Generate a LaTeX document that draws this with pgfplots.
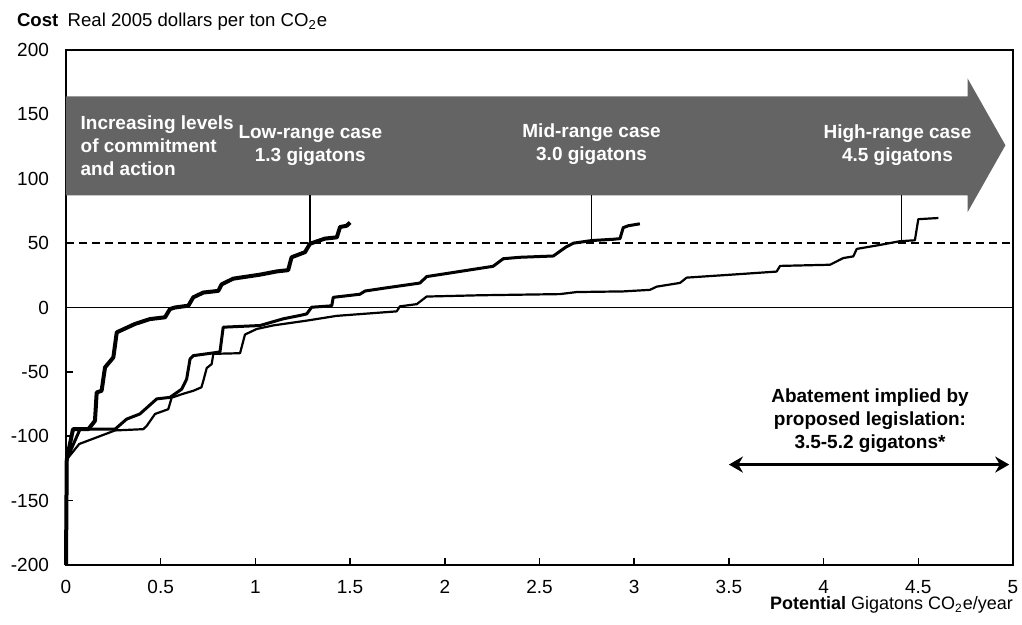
\documentclass[border=0pt]{standalone}
\usepackage{fontspec}
\setmainfont{Liberation Sans}
\usepackage{pgfplots}
\pgfplotsset{compat=1.18}
\usetikzlibrary{arrows.meta}
\definecolor{band}{RGB}{100,100,100}
\begin{document}
\begin{tikzpicture}
\path[use as bounding box] (-33pt,-30pt) rectangle (478pt,282.5pt);
\begin{axis}[
  scale only axis, width=473.5pt, height=257.5pt,
  xmin=0, xmax=5, ymin=-200, ymax=200,
  axis line style={line width=0.9pt},
  xtick={0,0.5,1,1.5,2,2.5,3,3.5,4,4.5,5},
  xticklabels={0,0.5,1,1.5,2,2.5,3,3.5,4,4.5,5},
  ytick={-200,-150,-100,-50,0,50,100,150,200},
  yticklabels={-200,-150,-100,-50,0,50,100,150,200},
  tick align=inside, tick pos=left,
  major tick length=3.5pt,
  tick style={black, line width=0.8pt},
  ticklabel style={font=\fontsize{9.5}{11}\selectfont},
  xticklabel style={yshift=-4pt},
  yticklabel style={xshift=-5pt},
  clip=false,
]
% band arrow
\addplot[fill=band, draw=none] coordinates {(0,87) (4.76,87) (4.76,74) (4.96,126) (4.76,178) (4.76,164) (0,164)} -- cycle;
% zero and dashed lines
\addplot[black, line width=0.7pt] coordinates {(0,0) (5,0)};
\addplot[black, line width=0.9pt, dash pattern=on 4pt off 2.5pt] coordinates {(0,50) (5,50)};
% leaders
\addplot[black, line width=0.7pt] coordinates {(1.288,49.5) (1.288,87)};
\addplot[black, line width=0.7pt] coordinates {(2.775,52) (2.775,87)};
\addplot[black, line width=0.7pt] coordinates {(4.41,51.5) (4.41,87)};
% high-range (thin)
\addplot[black, line width=1.1pt, line join=round] coordinates {
(0,-200) (0.004,-118) (0.07,-106) (0.259,-95.5) (0.408,-94.5) (0.426,-92) (0.47,-82.7) (0.54,-79) (0.558,-70) (0.619,-67) (0.672,-64.7) (0.715,-62) (0.725,-57) (0.743,-47) (0.769,-44) (0.778,-36) (0.919,-35.5) (0.945,-21) (1.007,-16.7) (1.095,-13.9) (1.271,-10.2) (1.429,-6.5) (1.746,-3) (1.763,0.9) (1.852,2.6) (1.904,8.5) (2.186,9.5) (2.608,10.4) (2.696,12) (2.942,12.5) (3.083,13.7) (3.119,16.2) (3.242,19.1) (3.277,23.2) (3.523,25.6) (3.752,27.9) (3.77,32.3) (4.034,33.2) (4.104,38.4) (4.157,39.7) (4.175,45.5) (4.298,48.6) (4.403,51.5) (4.482,52.2) (4.5,68.6) (4.606,69.5)};
% mid-range
\addplot[black, line width=1.5pt, line join=round] coordinates {
(0,-200) (0.004,-118) (0.074,-94.5) (0.259,-94.5) (0.32,-86.7) (0.39,-82.7) (0.479,-71) (0.549,-69.8) (0.611,-63.4) (0.637,-55.6) (0.655,-40) (0.672,-37.4) (0.796,-34.9) (0.813,-34.5) (0.83,-15.3) (1.024,-14) (1.147,-8.8) (1.235,-6.2) (1.271,-5) (1.297,0.2) (1.403,1.3) (1.411,7.9) (1.552,10.3) (1.579,12.8) (1.693,15.3) (1.869,19) (1.904,24) (2.08,28) (2.255,32) (2.309,37.9) (2.397,39) (2.573,40) (2.64,47) (2.68,50) (2.775,52) (2.89,53) (2.925,53.5) (2.942,62) (2.969,63.5) (3.03,65)};
% low-range (thick)
\addplot[black, line width=2pt, line join=round] coordinates {
(0,-200) (0.004,-118) (0.037,-94.5) (0.118,-94.5) (0.153,-88) (0.162,-66) (0.188,-64.7) (0.206,-46.5) (0.25,-38.8) (0.268,-19.3) (0.364,-12.8) (0.443,-9) (0.523,-7.6) (0.549,-1.2) (0.575,0) (0.646,1.4) (0.672,7.9) (0.725,11.6) (0.804,12.9) (0.822,18) (0.883,22.4) (1.024,25.5) (1.112,28) (1.173,29) (1.191,39) (1.262,43) (1.288,49.5) (1.367,53.5) (1.43,54.5) (1.447,62.5) (1.482,63.5) (1.5,66)};
% double arrow
\addplot[black, line width=1.5pt, {Stealth[length=7pt,width=8pt]}-{Stealth[length=7pt,width=8pt]}] coordinates {(3.5,-122) (4.98,-122)};
% band texts
\node[anchor=west, align=left, text=white, font=\bfseries\fontsize{9.5}{11.5}\selectfont] at (axis cs:0.04,126) {Increasing levels\\of commitment\\and action};
\node[align=center, text=white, font=\bfseries\fontsize{9.5}{11.5}\selectfont] at (axis cs:1.29,126) {Low-range case\\1.3 gigatons};
\node[align=center, text=white, font=\bfseries\fontsize{9.5}{11.5}\selectfont] at (axis cs:2.775,126.5) {Mid-range case\\3.0 gigatons};
\node[align=center, text=white, font=\bfseries\fontsize{9.5}{11.5}\selectfont] at (axis cs:4.39,126) {High-range case\\4.5 gigatons};
\node[align=center, text=black, font=\bfseries\fontsize{9.5}{11.5}\selectfont] at (axis cs:4.245,-88) {Abatement implied by\\proposed legislation:\\3.5-5.2 gigatons*};
% title and axis label
\node[anchor=base west, font=\fontsize{9.3}{11}\selectfont] at ([xshift=-28pt, yshift=11.7pt]rel axis cs:0,1) {\textbf{Cost}\hspace{0.5em}Real 2005 dollars per ton CO\textsubscript{2}e};
\node[anchor=base east, font=\fontsize{9}{11}\selectfont] at ([xshift=3.5pt, yshift=-22.5pt]rel axis cs:1,0) {\textbf{Potential} Gigatons CO\textsubscript{2}e/year};
\end{axis}
\end{tikzpicture}
\end{document}
